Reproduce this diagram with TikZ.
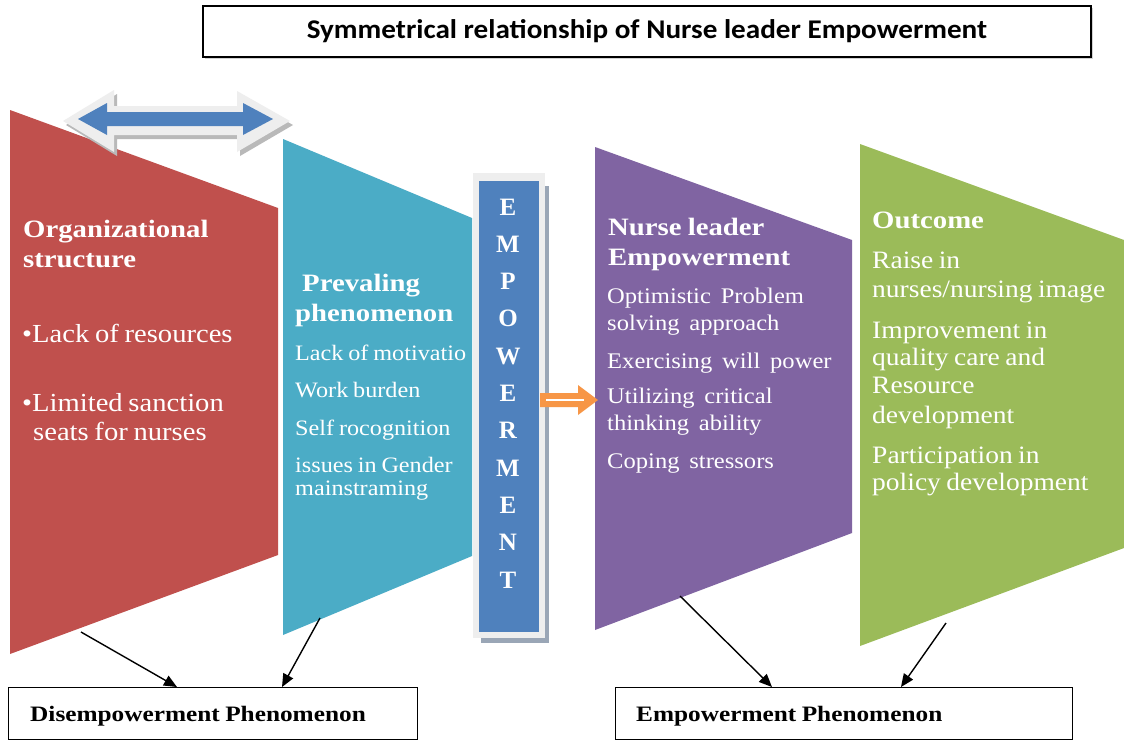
\documentclass[tikz,border=0pt]{standalone}
\usepackage{fontspec}
\setmainfont{Liberation Serif}
\newfontfamily\rmst[FakeStretch=1.1,WordSpace=0.8]{Liberation Serif}
\newfontfamily\rmsw[FakeStretch=1.102,WordSpace=1.6]{Liberation Serif}
\newfontfamily\bdst[FakeStretch=1.15,WordSpace=0.85]{Liberation Serif}
\newfontfamily\ttlfont[FakeStretch=1.08]{Carlito}
\usetikzlibrary{arrows.meta}
\definecolor{cred}{HTML}{C0504D}
\definecolor{cteal}{HTML}{4BACC6}
\definecolor{cpurp}{HTML}{8064A2}
\definecolor{cgreen}{HTML}{9BBB59}
\definecolor{cblue}{HTML}{4F81BD}
\definecolor{corange}{HTML}{F79646}
\definecolor{cframe}{HTML}{EEEEEE}
\definecolor{cshadow}{HTML}{9AA6B6}
\tikzset{
  hd/.style={anchor=base west, inner sep=0pt, text=white, font=\bdst\bfseries\fontsize{25}{25}\selectfont},
  redtx/.style={anchor=base west, inner sep=0pt, text=white, font=\rmst\fontsize{26}{26}\selectfont},
  tealtx/.style={anchor=base west, inner sep=0pt, text=white, font=\rmst\fontsize{22}{22}\selectfont},
  purtx/.style={anchor=base west, inner sep=0pt, text=white, font=\rmsw\fontsize{22.3}{22.3}\selectfont},
  grntx/.style={anchor=base west, inner sep=0pt, text=white, font=\rmst\fontsize{25}{25}\selectfont},
  letter/.style={anchor=base, inner sep=0pt, text=white, font=\bfseries\fontsize{25}{25}\selectfont},
  phbox/.style={draw=black, line width=1.2pt, anchor=north west, minimum height=52pt, inner sep=0pt},
  phtx/.style={anchor=base west, inner sep=0pt, text=black, font=\bdst\bfseries\fontsize{22}{22}\selectfont},
  conn/.style={draw=black, line width=1.4pt, -{Triangle[length=13pt,width=11pt]}},
}
\begin{document}
\begin{tikzpicture}[x=1pt,y=-1pt]
\useasboundingbox (0,0) rectangle (1124,740);
\fill[white] (0,0) rectangle (1124,740);

% title
\fill[gray!35] (205,8) rectangle (1093,59);
\node[draw=black, line width=1.2pt, fill=white, minimum width=888pt, minimum height=51pt, inner sep=0pt,
  font=\ttlfont\bfseries\fontsize{27}{27}\selectfont] (title) at (647,31.5) {Symmetrical relationship of Nurse leader Empowerment};

% panels
\fill[cred] (10,110) -- (278,208) -- (278,555) -- (10,654) -- cycle;
\fill[cteal] (283,139) -- (472,218) -- (472,556) -- (283,635) -- cycle;
\fill[cpurp] (595,147) -- (852,240) -- (852,533) -- (595,630) -- cycle;
\fill[cgreen] (860,144) -- (1124,240) -- (1124,548) -- (860,646) -- cycle;

% top double arrow
\fill[gray!55] (66,125) -- (117,94) -- (117,110) -- (240,110) -- (240,95) -- (293,125) -- (240,156) -- (240,139) -- (117,139) -- (117,156) -- cycle;
\fill[cframe] (63,121) -- (114,90) -- (114,106) -- (237,106) -- (237,91) -- (290,121) -- (237,152) -- (237,135) -- (114,135) -- (114,152) -- cycle;
\fill[cblue] (78,119) -- (107,103) -- (107,112) -- (243,112) -- (243,103) -- (273,119) -- (243,135) -- (243,126) -- (107,126) -- (107,135) -- cycle;

% EMPOWERMENT bar
\fill[cshadow] (481,186) rectangle (549,643);
\fill[cframe] (473,173) rectangle (545,638);
\node[fill=cblue, anchor=north west, minimum width=60pt, minimum height=451pt, inner sep=0pt] (bar) at (479,181) {};
\foreach \l [count=\i] in {E,M,P,O,W,E,R,M,E,N,T}
  \node[letter] (L\i) at (508,{215+37.3*(\i-1)}) {\l};

% orange arrow
\coordinate (oa) at (540,400);
\fill[corange] (oa) ++(0,-7) -- ++(38,0) -- ++(0,-8) -- ++(20,15) -- ++(-20,15) -- ++(0,-8) -- ++(-38,0) -- cycle;
\draw[white, line width=1.6pt] (oa) ++(6,0) -- ++(38,0);

% red texts
\node[hd] (o1) at (23,237) {Organizational};
\node[hd] (o2) at (23,267) {structure};
\node[redtx] (r1) at (22,342) {•Lack of resources};
\node[redtx] (r2) at (22,411) {•Limited sanction};
\node[redtx] (r3) at (33,440) {seats for nurses};

% teal texts
\node[hd] (p1) at (302,291) {Prevaling};
\node[hd] (p2) at (295,321) {phenomenon};
\node[tealtx] (t1) at (295,360) {Lack of motivatio};
\node[tealtx] (t2) at (295,397) {Work burden};
\node[tealtx] (t3) at (295,435) {Self rocognition};
\node[tealtx] (t4) at (295,472) {issues in Gender};
\node[tealtx] (t5) at (295,495) {mainstraming};

% purple texts
\node[hd] (n1) at (608,235) {Nurse leader};
\node[hd] (n2) at (608,265) {Empowerment};
\node[purtx] (u1) at (607,303) {Optimistic Problem};
\node[purtx] (u2) at (607,330) {solving approach};
\node[purtx] (u3) at (607,368) {Exercising will power};
\node[purtx] (u4) at (607,403) {Utilizing critical};
\node[purtx] (u5) at (607,430) {thinking ability};
\node[purtx] (u6) at (607,468) {Coping stressors};

% green texts
\node[hd] (g0) at (872,228) {Outcome};
\node[grntx] (g1) at (872,268) {Raise in};
\node[grntx] (g2) at (872,297) {nurses/nursing image};
\node[grntx] (g3) at (872,338) {Improvement in};
\node[grntx] (g4) at (872,365) {quality care and};
\node[grntx] (g5) at (872,393) {Resource};
\node[grntx] (g6) at (872,423) {development};
\node[grntx] (g7) at (872,463) {Participation in};
\node[grntx] (g8) at (872,490) {policy development};

% bottom boxes
\node[phbox, minimum width=409pt] (dis) at (8,687) {};
\node[phtx] (distx) at (30,721) {Disempowerment Phenomenon};
\node[phbox, minimum width=457pt] (emp) at (615,687) {};
\node[phtx] (emptx) at (636,721) {Empowerment Phenomenon};

% connectors
\coordinate (rf) at (81,632);
\coordinate (tf) at (320,618);
\coordinate (pf) at (680,596);
\coordinate (gf) at (946,623);
\draw[conn] (rf) -- (177,0 |- dis.north);
\draw[conn] (tf) -- (282,0 |- dis.north);
\draw[conn] (pf) -- (772,0 |- emp.north);
\draw[conn] (gf) -- (901,0 |- emp.north);
\end{tikzpicture}
\end{document}
